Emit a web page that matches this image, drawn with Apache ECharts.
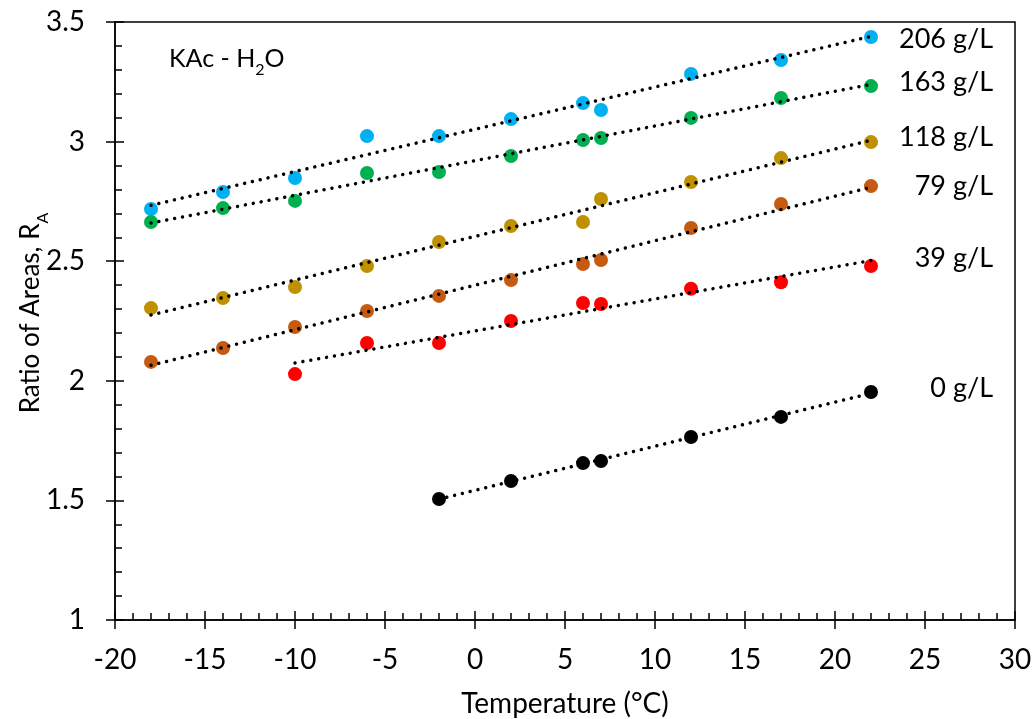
<!DOCTYPE html>
<html>
<head>
<meta charset="utf-8">
<script src="https://cdn.jsdelivr.net/npm/echarts@6/dist/echarts.min.js"></script>
<style>
html,body{margin:0;padding:0;background:#fff;}
#chart{width:1034px;height:719px;}
</style>
</head>
<body>
<div id="chart"></div>
<script>
// Temperatures (°C)
const temps = [-18, -14, -10, -6, -2, 2, 6, 7, 12, 17, 22];
const temps39 = [-10, -6, -2, 2, 6, 7, 12, 17, 22];
const temps0 = [-2, 2, 6, 7, 12, 17, 22];

// Ratio of areas for each KAc concentration
const ra206 = [2.718, 2.789, 2.848, 3.023, 3.023, 3.094, 3.161, 3.132, 3.283, 3.341, 3.437];
const ra163 = [2.664, 2.722, 2.752, 2.869, 2.873, 2.940, 3.007, 3.015, 3.099, 3.182, 3.232];
const ra118 = [2.304, 2.346, 2.392, 2.480, 2.580, 2.647, 2.664, 2.760, 2.831, 2.931, 2.998];
const ra79  = [2.079, 2.137, 2.225, 2.292, 2.355, 2.421, 2.488, 2.505, 2.639, 2.739, 2.814];
const ra39  = [2.028, 2.158, 2.158, 2.250, 2.325, 2.321, 2.385, 2.412, 2.480];
const ra0   = [1.506, 1.581, 1.656, 1.665, 1.765, 1.849, 1.953];

const seriesLabels = ['206 g/L', '163 g/L', '118 g/L', '79 g/L', '39 g/L', '0 g/L'];
const colors = ['#00B0F0', '#00B050', '#BF9000', '#C55A11', '#FF0000', '#000000'];

const groups = [
  [temps, ra206], [temps, ra163], [temps, ra118], [temps, ra79], [temps39, ra39], [temps0, ra0]
];

function fit(xs, ys) {
  const n = xs.length;
  const mx = xs.reduce((a, b) => a + b, 0) / n;
  const my = ys.reduce((a, b) => a + b, 0) / n;
  let sxy = 0, sxx = 0;
  for (let i = 0; i < n; i++) { sxy += (xs[i] - mx) * (ys[i] - my); sxx += (xs[i] - mx) ** 2; }
  const b = sxy / sxx, a = my - b * mx;
  const x0 = Math.min(...xs), x1 = Math.max(...xs);
  return [[x0, a + b * x0], [x1, a + b * x1]];
}

const FONT = 'Lato';
const AX = 28;
const series = [];
groups.forEach((g, i) => {
  series.push({
    type: 'scatter', name: seriesLabels[i], xAxisIndex: 0, yAxisIndex: 0,
    symbol: 'circle', symbolSize: 14, z: 2,
    itemStyle: { color: colors[i], opacity: 1 },
    data: g[0].map((x, k) => [x, g[1][k]])
  });
  series.push({
    type: 'line', xAxisIndex: 0, yAxisIndex: 0, showSymbol: false, symbol: 'none', z: 3,
    silent: true,
    lineStyle: { color: '#000', width: 3.5, type: [0.01, 8], cap: 'round' },
    data: fit(g[0], g[1])
  });
});

const labelY = [39, 82, 137, 186, 258, 388];

const chart = echarts.init(document.getElementById('chart'), null, { renderer: 'canvas' });
chart.setOption({
  animation: false,
  backgroundColor: '#fff',
  textStyle: { fontFamily: FONT },
  grid: { left: 115, right: 19, top: 22, bottom: 99, containLabel: false, outerBoundsMode: 'none',
          show: true, borderColor: '#000', borderWidth: 1.5, backgroundColor: 'transparent' },
  xAxis: [{
    type: 'value', min: -20, max: 30, interval: 5, position: 'bottom',
    axisLine: { show: true, onZero: false, lineStyle: { color: '#000', width: 1.5 } },
    axisTick: { show: true, inside: false, length: 9, lineStyle: { color: '#000', width: 1.5 } },
    minorTick: { show: false },
    splitLine: { show: false },
    axisLabel: { color: '#000', fontSize: AX, fontFamily: FONT, margin: 26 },
    name: 'Temperature (°C)', nameLocation: 'middle', nameGap: 70, nameMoveOverlap: false,
    nameTextStyle: { color: '#000', fontSize: AX, fontFamily: FONT }
  }, {
    type: 'value', min: -20, max: 30, interval: 5, position: 'bottom',
    axisLine: { show: false, onZero: false },
    axisTick: { show: true, inside: true, length: 9, lineStyle: { color: '#000', width: 1.5 } },
    minorTick: { show: true, splitNumber: 5, length: 7, lineStyle: { color: '#000', width: 1.5 } },
    splitLine: { show: false }, axisLabel: { show: false }
  }],
  yAxis: [{
    type: 'value', min: 1, max: 3.5, interval: 0.5, position: 'left',
    axisLine: { show: true, onZero: false, lineStyle: { color: '#000', width: 1.5 } },
    axisTick: { show: true, inside: false, length: 9, lineStyle: { color: '#000', width: 1.5 } },
    splitLine: { show: false },
    axisLabel: { color: '#000', fontSize: AX, fontFamily: FONT, margin: 30 },
    name: 'Ratio of Areas, R{sub|A}', nameLocation: 'middle', nameGap: 68, nameMoveOverlap: false,
    nameTextStyle: {
      color: '#000', fontSize: 26, fontFamily: FONT, lineHeight: 32, padding: [0, 0, 0, 16],
      rich: { sub: { fontSize: 16, fontFamily: FONT, color: '#000', lineHeight: 8, padding: [24, 0, 0, 0] } }
    }
  }, {
    type: 'value', min: 1, max: 3.5, interval: 0.5, position: 'left',
    axisLine: { show: false, onZero: false },
    axisTick: { show: true, inside: true, length: 9, lineStyle: { color: '#000', width: 1.5 } },
    minorTick: { show: true, splitNumber: 5, length: 7, lineStyle: { color: '#000', width: 1.5 } },
    splitLine: { show: false }, axisLabel: { show: false }
  }],
  graphic: [
    {
      type: 'text', left: 169, top: 40, z: 10,
      style: {
        text: 'KAc - H{sub|2}O', fill: '#000', font: '25px Lato', lineHeight: 30,
        rich: { sub: { fontSize: 16, fontFamily: FONT, fill: '#000', lineHeight: 8, padding: [22, 0, 0, 0] } }
      }
    }
  ].concat(seriesLabels.map((t, i) => ({
    type: 'text', x: 993, y: labelY[i], z: 10,
    style: { text: t, fill: '#000', font: '27px Lato', align: 'right', verticalAlign: 'middle' }
  }))),
  series: series
});
</script>
</body>
</html>
